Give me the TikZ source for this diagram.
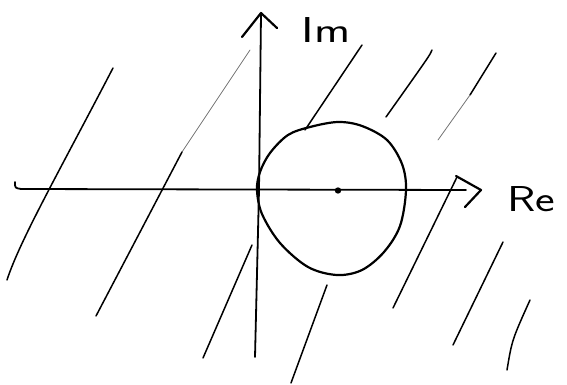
\documentclass[tikz,border=0pt]{standalone}
\usepackage{graphicx}
\begin{document}
\begin{tikzpicture}[x=1pt,y=-1pt,line cap=round,line join=round,
  ink/.style={line width=1.8pt},
  hatch/.style={line width=1.5pt},
  faint/.style={line width=0.8pt, black!55},
  lbl/.style={font=\sffamily\fontsize{36}{40}\selectfont, inner sep=0pt}]
\useasboundingbox (0,0) rectangle (567,385);
% axes
\coordinate (reStart) at (15,182);
\coordinate (reEnd) at (466,190);
\coordinate (reTip) at (481,190);
\coordinate (imTop) at (261,14);
\coordinate (imO) at (259,190);
\coordinate (imBot) at (255,357);
\draw[ink] (reStart) .. controls (15,188) .. (21,189) -- (reEnd);
\draw[line width=2.2pt] (456,176) -- (reTip) -- (465,207);
\draw[ink] (imTop) -- (imO) -- (imBot);
\draw[line width=2.2pt] (242,37) -- (261,13) -- (277,28);
% labels
\node[lbl] (im) at (326,30) {\scalebox{1.35}[1]{Im}};
\node[lbl] (re) at (531,199) {\scalebox{1.3}[1]{Re}};
% circle
\draw[line width=2.2pt] plot[smooth cycle, tension=0.55] coordinates {
  (257,190) (262,214) (280,243) (308,267) (337,275) (362,270) (384,252)
  (400,226) (406,190) (402,164) (387,140) (362,126) (338,122) (310,127)
  (288,135) (270,153) (260,172)};
\fill (338,190.5) circle (3.2pt);
% hatching
\draw[hatch] (113,68) .. controls (60,170) and (20,240) .. (7,280);
\draw[faint] (250,50) -- (182,152);
\draw[hatch] (182,152) -- (96,316);
\draw[hatch] (362,45) -- (305,130);
\draw[hatch] (432,50) .. controls (430,55) .. (386,117);
\draw[hatch] (496,53) -- (470,95);
\draw[faint] (470,95) -- (438,140);
\draw[hatch] (457,177) -- (393,308);
\draw[hatch] (503,242) -- (453,345);
\draw[hatch] (530,300) .. controls (512,340) .. (507,370);
\draw[hatch] (327,285) -- (291,383);
\draw[hatch] (252,245) -- (203,358);
\end{tikzpicture}
\end{document}
